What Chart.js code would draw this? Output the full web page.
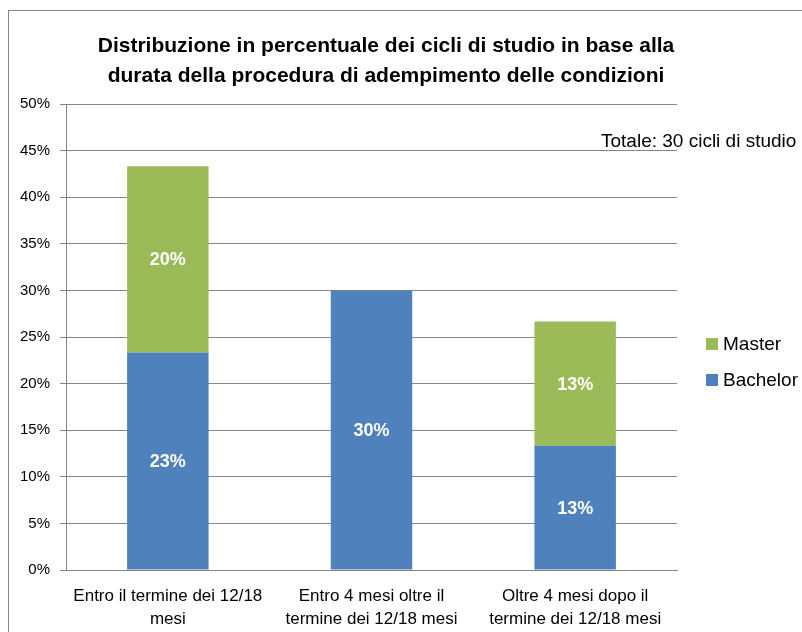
<!DOCTYPE html>
<html>
<head>
<meta charset="utf-8">
<script src="https://cdn.jsdelivr.net/npm/chart.js@4/dist/chart.umd.min.js"></script>
<style>
  body { margin: 0; background: #fff; }
  #wrap { width: 802px; height: 632px; position: relative; }
</style>
</head>
<body>
<div id="wrap"><canvas id="chart"></canvas></div>
<script>
const categories = [
    ['Entro il termine dei 12/18', 'mesi'],
    ['Entro 4 mesi oltre il', 'termine dei 12/18 mesi'],
    ['Oltre 4 mesi dopo il', 'termine dei 12/18 mesi']
];
const bachelor = [23.33, 30, 13.33];
const master = [20, 0, 13.33];
const yMax = 50;
const yStep = 5;
const titleLines = [
    'Distribuzione in percentuale dei cicli di studio in base alla',
    'durata della procedura di adempimento delle condizioni'
];
const note = 'Totale: 30 cicli di studio';

const FONT = '"Liberation Sans Narrow", "Liberation Sans", sans-serif';
const GRID = '#868686';

// white % labels in the middle of each segment
const segLabels = {
    id: 'segLabels',
    afterDatasetsDraw(chart) {
        const c = chart.ctx;
        c.save();
        c.fillStyle = '#fff';
        c.font = 'bold 18px ' + FONT;
        c.textAlign = 'center';
        c.textBaseline = 'middle';
        chart.data.datasets.forEach((ds, i) => {
            chart.getDatasetMeta(i).data.forEach((bar, j) => {
                const v = ds.data[j];
                if (!v) return;
                c.fillText(Math.round(v) + '%', bar.x, (bar.y + bar.base) / 2 + 1);
            });
        });
        c.restore();
    }
};

// frame, title, note and legend
const extras = {
    id: 'extras',
    beforeDraw(chart) {
        const c = chart.ctx;
        c.save();
        c.strokeStyle = GRID;
        c.lineWidth = 1;
        c.strokeRect(8.5, 10.5, 900, 700);
        c.restore();
    },
    afterDraw(chart) {
        const c = chart.ctx;
        c.save();
        c.fillStyle = '#000';
        c.textAlign = 'center';
        c.textBaseline = 'middle';
        c.font = 'bold 21px ' + FONT;
        c.fillText(titleLines[0], 386, 46);
        c.fillText(titleLines[1], 386, 76);

        c.font = '19px ' + FONT;
        c.textAlign = 'left';
        c.fillText(note, 601, 142);

        // legend, Master on top
        const items = [chart.data.datasets[1], chart.data.datasets[0]];
        items.forEach((ds, k) => {
            const y = 344 + k * 36;
            c.fillStyle = ds.backgroundColor;
            c.fillRect(706, y - 6, 12, 12);
            c.fillStyle = '#000';
            c.fillText(ds.label, 723, y + 1);
        });
        c.restore();
    }
};

new Chart(document.getElementById('chart'), {
    type: 'bar',
    data: {
        labels: categories,
        datasets: [
            { label: 'Bachelor', data: bachelor, backgroundColor: '#4F81BD' },
            { label: 'Master', data: master, backgroundColor: '#9BBB59' }
        ]
    },
    options: {
        responsive: true,
        maintainAspectRatio: false,
        animation: false,
        layout: { padding: { top: 104, right: 125, left: 8, bottom: 4 } },
        plugins: {
            legend: { display: false },
            title: { display: false },
            tooltip: { enabled: false }
        },
        datasets: { bar: { categoryPercentage: 1, barPercentage: 0.4 } },
        scales: {
            x: {
                stacked: true,
                grid: { display: false, drawTicks: false },
                border: { color: GRID },
                ticks: { color: '#000', font: { family: FONT, size: 17, lineHeight: 1.4 }, maxRotation: 0, padding: 14 },
                afterFit(s) { s.height = 58; }
            },
            y: {
                stacked: true,
                min: 0,
                max: yMax,
                grid: { color: GRID, tickLength: 6 },
                border: { color: GRID },
                ticks: {
                    stepSize: yStep,
                    color: '#000',
                    font: { family: FONT, size: 15 },
                    padding: 10,
                    callback: v => v + '%'
                },
                afterFit(s) { s.width = 58; }
            }
        }
    },
    plugins: [segLabels, extras]
});
</script>
</body>
</html>
